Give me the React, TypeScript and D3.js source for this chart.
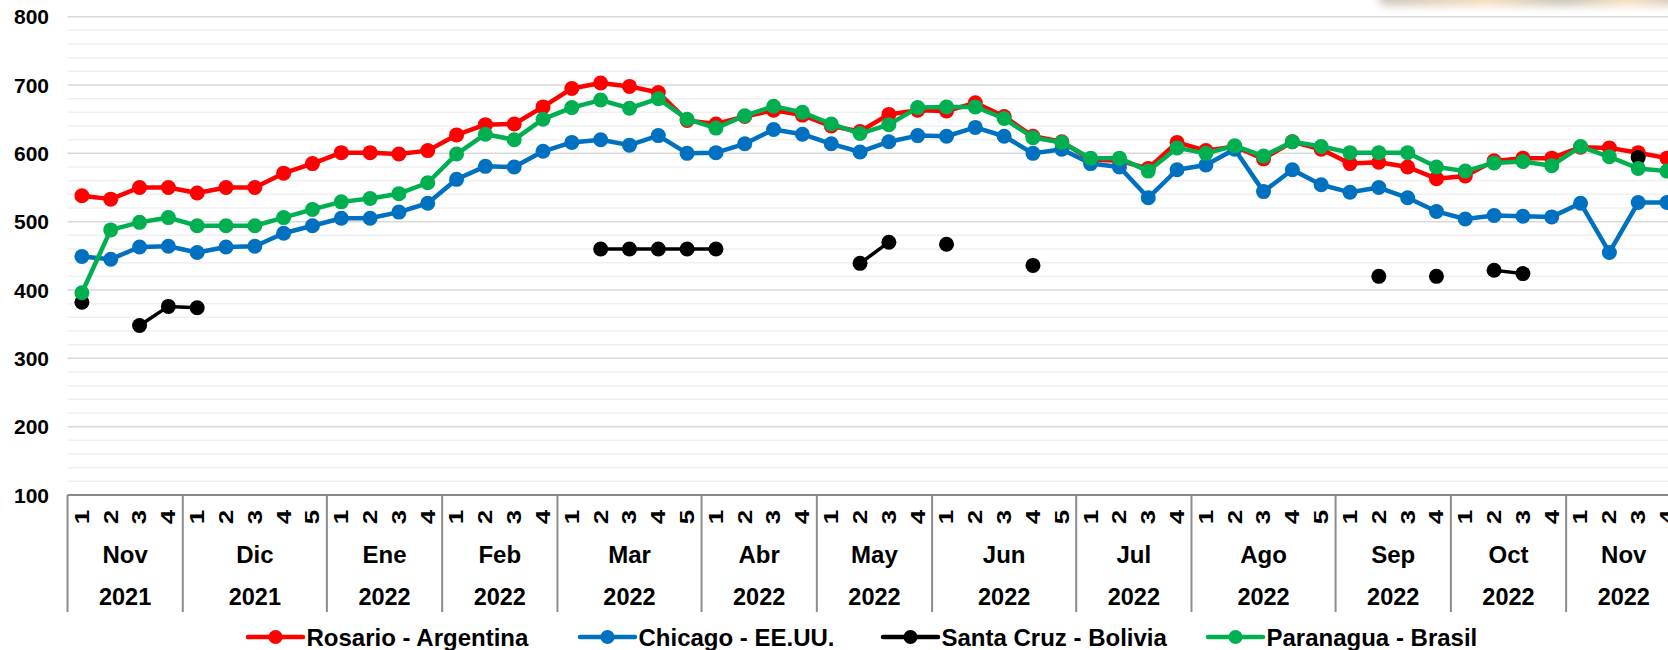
import { line, range, scaleBand, scaleLinear } from "d3";

const months = ["Nov", "Dic", "Ene", "Feb", "Mar", "Abr", "May", "Jun", "Jul", "Ago", "Sep", "Oct", "Nov"];
const years = ["2021", "2021", "2022", "2022", "2022", "2022", "2022", "2022", "2022", "2022", "2022", "2022", "2022"];
const weeksPerMonth = [4, 5, 4, 4, 5, 4, 4, 5, 4, 5, 4, 4, 4];
const yTicks = [100, 200, 300, 400, 500, 600, 700, 800];

// precios semanales (US$/t)
const rosario = [
    538, 533, 550, 550, 542, 550, 550, 571, 585, 601, 601, 599, 604, 627, 642, 643,
    668, 695, 703, 698, 689, 648, 643, 654, 663, 656, 640, 632, 657, 663, 662, 674,
    654, 625, 617, 591, 589, 578, 616, 604, 610, 592, 617, 606, 585, 587, 580, 563,
    567, 589, 593, 593, 609, 608, 601, 593,
];
const chicago = [
    449, 445, 463, 464, 455, 463, 464, 483, 494, 505, 505, 514, 527, 562, 581, 580,
    603, 616, 620, 612, 626, 600, 601, 614, 635, 628, 614, 602, 617, 626, 625, 638,
    625, 600, 606, 585, 580, 535, 576, 583, 606, 544, 576, 554, 543, 550, 535, 515,
    504, 509, 508, 507, 527, 455, 528, 528,
];
const santaCruz = [
    382, null, 348, 376, 374, null, null, null, null, null, null, null, null, null, null, null,
    null, null, 460, 460, 460, 460, 460, null, null, null, null, 439, 470, null, 467, null,
    null, 436, null, null, null, null, null, null, null, null, null, null, null, 420, null, 420,
    null, 429, 424, null, null, null, 594, null,
];
const paranagua = [
    396, 488, 499, 506, 494, 494, 494, 506, 518, 529, 534, 541, 557, 599, 628, 620,
    650, 667, 678, 666, 680, 650, 637, 655, 669, 660, 643, 629, 642, 667, 668, 668,
    651, 623, 616, 593, 593, 574, 608, 600, 611, 596, 617, 610, 601, 601, 601, 580,
    574, 586, 588, 582, 610, 595, 578, 574,
];

const series = [
    { name: "Rosario - Argentina", color: "#FF0000", values: rosario, width: 4.5, legendX: 248 },
    { name: "Chicago - EE.UU.", color: "#0070C0", values: chicago, width: 4.5, legendX: 580 },
    { name: "Santa Cruz - Bolivia", color: "#000000", values: santaCruz, width: 3.5, legendX: 883 },
    { name: "Paranagua - Brasil", color: "#00B050", values: paranagua, width: 4.5, legendX: 1208 },
];

const W = 1668;
const H = 650;
const FONT = "'Liberation Sans', Arial, sans-serif";

function App() {
    // semanas: una categoria por semana
    const weeks = weeksPerMonth.flatMap((n) => range(1, n + 1));
    const idx = weeks.map((_, i) => i);

    const x = scaleBand<number>()
        .domain(idx)
        .range([67.5, 67.5 + 56 * 28.82]);
    const y = scaleLinear().domain([100, 800]).range([495, 16.7]);
    const cx = (i: number) => (x(i) as number) + x.bandwidth() / 2;

    const minor = range(100, 801, 20).filter((v) => v % 100 !== 0);

    // limites de cada mes
    const starts: number[] = [];
    weeksPerMonth.reduce((acc, n) => {
        starts.push(acc);
        return acc + n;
    }, 0);

    const axisY = y(100);
    const bottomY = 612;

    return (
        <div style={{ position: "absolute", left: 0, top: 0 }}>
            <svg width={W} height={H} style={{ display: "block", fontFamily: FONT }}>
                <defs>
                    <filter id="blur" x="-20%" y="-200%" width="140%" height="500%">
                        <feGaussianBlur stdDeviation="4" />
                    </filter>
                    <linearGradient id="photo" x1="0" x2="1" y1="0" y2="0">
                        <stop offset="0" stopColor="#b9b2a6" />
                        <stop offset="0.35" stopColor="#f2d3a4" />
                        <stop offset="0.6" stopColor="#b8b0a3" />
                        <stop offset="0.8" stopColor="#f3d6a8" />
                        <stop offset="1" stopColor="#bdb5a8" />
                    </linearGradient>
                </defs>
                <rect width={W} height={H} fill="#fff" />
                {/* imagen difusa arriba a la derecha */}
                <rect x={1378} y={-14} width={310} height={20} rx={10} fill="url(#photo)" opacity={0.75} filter="url(#blur)" />

                {/* grilla */}
                {minor.map((v) => (
                    <line key={"m" + v} x1={67.5} x2={W} y1={y(v)} y2={y(v)} stroke="#f0f0f0" strokeWidth={1.5} />
                ))}
                {yTicks.slice(1).map((v) => (
                    <line key={"M" + v} x1={67.5} x2={W} y1={y(v)} y2={y(v)} stroke="#d9d9d9" strokeWidth={1.5} />
                ))}

                {/* eje y */}
                {yTicks.map((v) => (
                    <text key={v} x={49} y={y(v)} textAnchor="end" dominantBaseline="central" fontSize={21} fontWeight="bold">
                        {v}
                    </text>
                ))}

                {/* eje x: caja de categorias */}
                <line x1={67.5} x2={W} y1={axisY} y2={axisY} stroke="#898989" strokeWidth={2} />
                {starts.map((s) => (
                    <line key={"s" + s} x1={x(s)} x2={x(s)} y1={axisY} y2={bottomY} stroke="#8c8c8c" strokeWidth={2} />
                ))}
                {weeks.map((w, i) => (
                    <text
                        key={"w" + i}
                        transform={`translate(${cx(i)},${517}) rotate(-90) scale(1.3,1)`}
                        textAnchor="middle"
                        dominantBaseline="central"
                        fontSize={20}
                        fontWeight="bold"
                    >
                        {w}
                    </text>
                ))}
                {months.map((m, k) => {
                    const mid = (x(starts[k]) as number) + (weeksPerMonth[k] * x.step()) / 2;
                    return (
                        <g key={"mo" + k}>
                            <text x={mid} y={554} textAnchor="middle" dominantBaseline="central" fontSize={24} fontWeight="bold">
                                {m}
                            </text>
                            <text x={mid} y={597} textAnchor="middle" dominantBaseline="central" fontSize={23.5} fontWeight="bold">
                                {years[k]}
                            </text>
                        </g>
                    );
                })}

                {/* series */}
                {series.map((s) => {
                    const path = line<number | null>()
                        .defined((d) => d != null)
                        .x((_, i) => cx(i))
                        .y((d) => y(d as number))(s.values);
                    return (
                        <g key={s.name}>
                            <path d={path ?? ""} fill="none" stroke={s.color} strokeWidth={s.width} strokeLinejoin="round" />
                            {s.values.map((v, i) =>
                                v == null ? null : <circle key={i} cx={cx(i)} cy={y(v)} r={7.5} fill={s.color} />
                            )}
                        </g>
                    );
                })}

                {/* leyenda */}
                {series.map((s) => (
                    <g key={"lg" + s.name} transform={`translate(${s.legendX},637)`}>
                        <line x1={0} x2={55} y1={0} y2={0} stroke={s.color} strokeWidth={4.5} strokeLinecap="round" />
                        <circle cx={27.5} cy={0} r={7} fill={s.color} />
                        <text x={58.5} y={0} dominantBaseline="central" fontSize={24} fontWeight="bold">
                            {s.name}
                        </text>
                    </g>
                ))}
            </svg>
        </div>
    );
}

export default App;
